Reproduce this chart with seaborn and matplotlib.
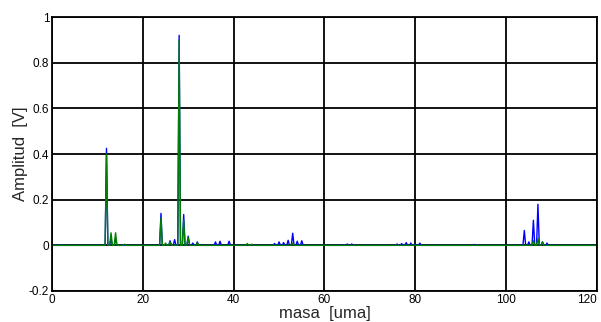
import numpy as np
import pandas as pd
import matplotlib
matplotlib.use('Agg')
import matplotlib.pyplot as plt
from matplotlib.ticker import FuncFormatter
import seaborn as sns

# peak masses [uma] and amplitudes [V]
blue_mass = [12, 13, 14, 24, 25, 26, 27, 28, 29, 30, 31, 32, 36, 37, 39,
             49, 50, 51, 52, 53, 54, 55, 65, 66, 76, 77, 78, 79, 80, 81, 93,
             104, 105, 106, 107, 108, 109]
blue_amp = [0.425, 0.03, 0.03, 0.14, 0.005, 0.02, 0.025, 0.92, 0.135, 0.04, 0.01, 0.015,
            0.015, 0.018, 0.018, 0.008, 0.015, 0.012, 0.022, 0.053, 0.018, 0.02,
            0.006, 0.006, 0.006, 0.008, 0.012, 0.01, 0.005, 0.01, 0.004,
            0.065, 0.015, 0.11, 0.18, 0.015, 0.01]

green_mass = [12, 13, 14, 16, 24, 25, 26, 28, 29, 30, 32, 43, 44, 53, 106, 107, 108]
green_amp = [0.40, 0.055, 0.055, 0.005, 0.12, 0.01, 0.015, 0.90, 0.11, 0.035, 0.012,
             0.008, 0.005, 0.01, 0.02, 0.03, 0.015]

x_ticks = [0, 20, 40, 60, 80, 100, 120]
y_ticks = [-0.2, 0, 0.2, 0.4, 0.6, 0.8, 1]


def stick_line(mass, amp, half=0.3):
    """Turn peak list into a line with baseline between peaks."""
    xs = [0.0]
    ys = [0.0]
    for m, a in zip(mass, amp):
        xs += [m - half, m, m + half]
        ys += [0.0, a, 0.0]
    xs.append(120.0)
    ys.append(0.0)
    return pd.DataFrame({'masa': xs, 'amp': ys})


sns.set_theme(style='white')
plt.rcParams['font.family'] = ['Liberation Sans', 'DejaVu Sans']

fig = plt.figure(figsize=(6.01, 3.22), dpi=100)
ax = fig.add_axes([0.0865, 0.0963, 0.9068, 0.8507])

sns.lineplot(data=stick_line(blue_mass, blue_amp), x='masa', y='amp',
             color='#0000ff', lw=1.0, ax=ax, sort=False)
sns.lineplot(data=stick_line(green_mass, green_amp), x='masa', y='amp',
             color='#008000', lw=1.0, ax=ax, sort=False)

ax.set_xlim(0, 120)
ax.set_ylim(-0.2, 1)
ax.set_xticks(x_ticks)
ax.set_yticks(y_ticks)
fmt = FuncFormatter(lambda v, p: '%g' % round(v, 2))
ax.xaxis.set_major_formatter(fmt)
ax.yaxis.set_major_formatter(fmt)
ax.grid(True, color='black', lw=1.3, ls='-')
ax.set_axisbelow(True)
for s in ax.spines.values():
    s.set_color('black')
    s.set_linewidth(1.3)
ax.tick_params(direction='in', length=3, labelsize=8.5, pad=2, colors='black')
# keep the last x label inside the figure
ax.get_xticklabels()[-1].set_horizontalalignment('right')
ax.get_xticklabels()[-1].set_x(122.5)
ax.set_xlabel('masa  [uma]', fontsize=12, labelpad=0)
ax.set_ylabel('Amplitud  [V]', fontsize=12, labelpad=1)

fig.savefig('out.png', dpi=100)
